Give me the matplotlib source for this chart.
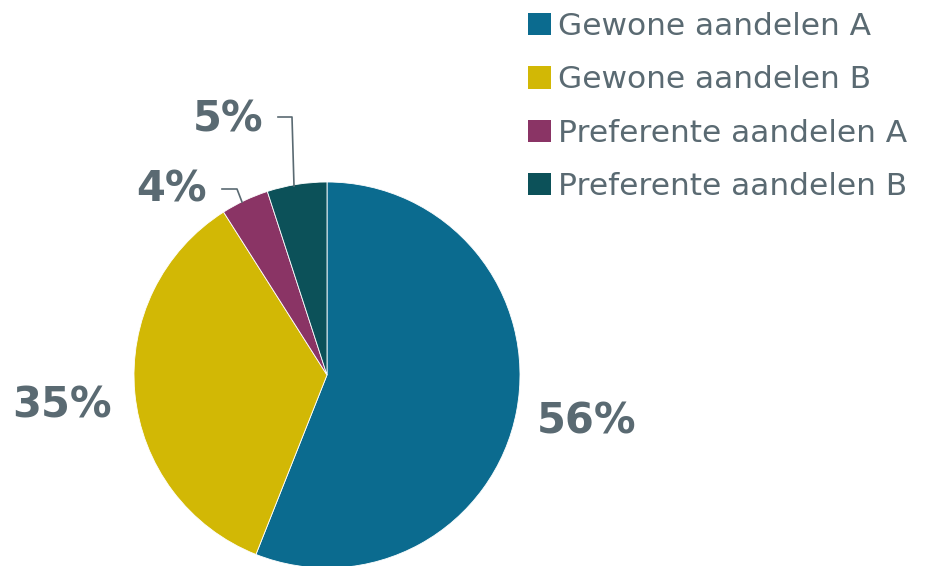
import matplotlib
matplotlib.use("Agg")
import matplotlib.pyplot as plt
from matplotlib.patches import Patch

# data
categories = ["Gewone aandelen A", "Gewone aandelen B",
              "Preferente aandelen A", "Preferente aandelen B"]
shares = [56, 35, 4, 5]
colors = ["#0b6b8f", "#d2b805", "#8a3465", "#0c5159"]
text_color = "#5a6a72"

W, H = 926, 566
fig = plt.figure(figsize=(W / 100, H / 100), dpi=100)
ax = fig.add_axes([0, 0, 1, 1])

cx, cy, r = 327, H - 375, 193
wedges, _ = ax.pie(shares, colors=colors, startangle=90, counterclock=False,
                   center=(cx, cy), radius=r, frame=True,
                   wedgeprops=dict(edgecolor="white", linewidth=0.6))
ax.set_xlim(0, W)
ax.set_ylim(0, H)
ax.axis("off")

# percentage labels (pixel positions from top-left)
label_pos = [(587, 422), (62, 405), (172, 190), (228, 120)]
for val, (x, y) in zip(shares, label_pos):
    ax.text(x, H - y, f"{val}%", fontsize=30, fontweight="bold",
            color=text_color, ha="center", va="center")

# leader lines for the small slices
ax.plot([222, 237, 242], [H - 189, H - 189, H - 202], color=text_color, lw=1.2)
ax.plot([278, 292, 294], [H - 117, H - 117, H - 186], color=text_color, lw=1.2)

handles = [Patch(facecolor=c, edgecolor="none") for c in colors]
leg = fig.legend(handles, categories, loc="upper left",
                 bbox_to_anchor=(528 / W, 1 - 12 / H), frameon=False,
                 fontsize=22.5, labelcolor=text_color,
                 handlelength=0.72, handleheight=0.72, handletextpad=0.25,
                 labelspacing=0.78, borderpad=0, borderaxespad=0)

fig.savefig("out.png", dpi=100)
